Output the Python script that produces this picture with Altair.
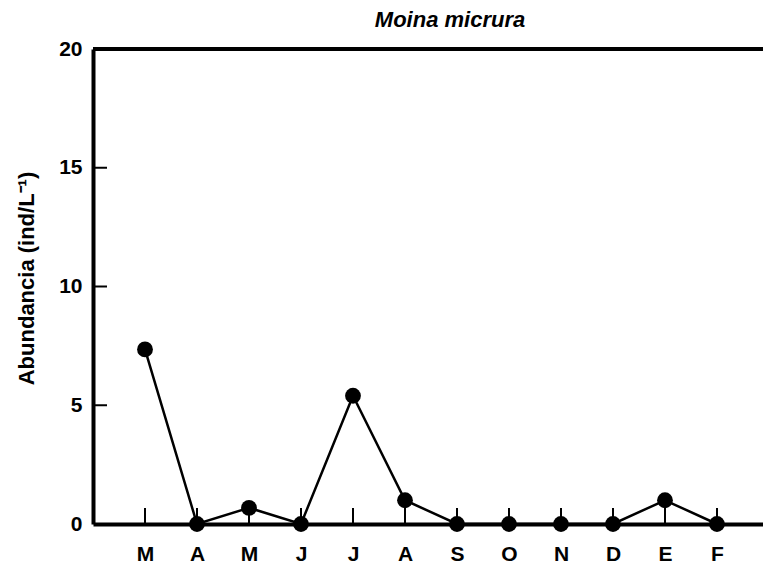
import altair as alt
import pandas as pd

months = ["M", "A", "M", "J", "J", "A", "S", "O", "N", "D", "E", "F"]
month_idx = list(range(1, 13))
abundance = [7.35, 0.0, 0.68, 0.0, 5.4, 1.0, 0.0, 0.0, 0.0, 0.0, 1.0, 0.0]
y_ticks = [5, 10, 15]
title_text = ["Moina micrura"]

FONT = "Liberation Sans"
W, H = 670, 475

df = pd.DataFrame({"idx": month_idx, "month": months, "val": abundance})
df_yt = pd.DataFrame({"yv": y_ticks})
df_title = pd.DataFrame({"t": title_text})

label_expr = "[" + ",".join("'%s'" % m for m in months) + "][datum.value - 1]"

xscale = alt.Scale(domain=[0, 12.885], nice=False, zero=False)
yscale = alt.Scale(domain=[0, 20], nice=False)

xenc = alt.X(
    "idx:Q",
    scale=xscale,
    axis=alt.Axis(
        values=month_idx,
        labelExpr=label_expr,
        tickSize=0,
        labelPadding=19,
        labelFont=FONT,
        labelFontSize=21,
        labelFontWeight="bold",
        labelColor="black",
        domainColor="black",
        domainWidth=4,
        grid=False,
        title=None,
    ),
)
yenc = alt.Y(
    "val:Q",
    scale=yscale,
    axis=alt.Axis(
        values=[0, 5, 10, 15, 20],
        tickSize=0,
        labelPadding=11,
        labelFont=FONT,
        labelFontSize=21,
        labelFontWeight="bold",
        labelColor="black",
        domainColor="black",
        domainWidth=4,
        grid=False,
        title="Abundancia (ind/L⁻¹)",
        titleFont=FONT,
        titleFontSize=22,
        titleFontWeight="bold",
        titleColor="black",
        titlePadding=20,
        titleY=229,
    ),
)

base = alt.Chart(df)

xticks = base.mark_rule(color="black", strokeWidth=2).encode(
    x=alt.X("idx:Q", scale=xscale),
    y=alt.value(H - 16),
    y2=alt.value(H),
)

yticks = alt.Chart(df_yt).mark_rule(color="black", strokeWidth=2).encode(
    y=alt.Y("yv:Q", scale=yscale),
    x=alt.value(0),
    x2=alt.value(14),
)

top_line = alt.Chart(df_yt).mark_rule(color="black", strokeWidth=4).encode(
    x=alt.value(0), x2=alt.value(W), y=alt.value(0)
)

line = base.mark_line(color="black", strokeWidth=2.5).encode(x=xenc, y=yenc)
points = base.mark_point(filled=True, color="black", opacity=1, size=250, shape="circle").encode(
    x=alt.X("idx:Q", scale=xscale), y=alt.Y("val:Q", scale=yscale)
)

title = alt.Chart(df_title).mark_text(
    font=FONT,
    fontSize=22,
    fontStyle="italic",
    fontWeight="bold",
    color="black",
    align="center",
    baseline="alphabetic",
).encode(text="t:N", x=alt.value(357), y=alt.value(-22))

chart = (
    alt.layer(line, xticks, yticks, top_line, points, title)
    .properties(
        width=W,
        height=H,
        autosize=alt.AutoSizeParams(type="none"),
        padding={"left": 93, "top": 49, "right": 0, "bottom": 41},
    )
    .configure_view(stroke=None)
    .configure(background="white")
)

chart.save("out.html", embed_options={"renderer": "svg", "actions": False})
